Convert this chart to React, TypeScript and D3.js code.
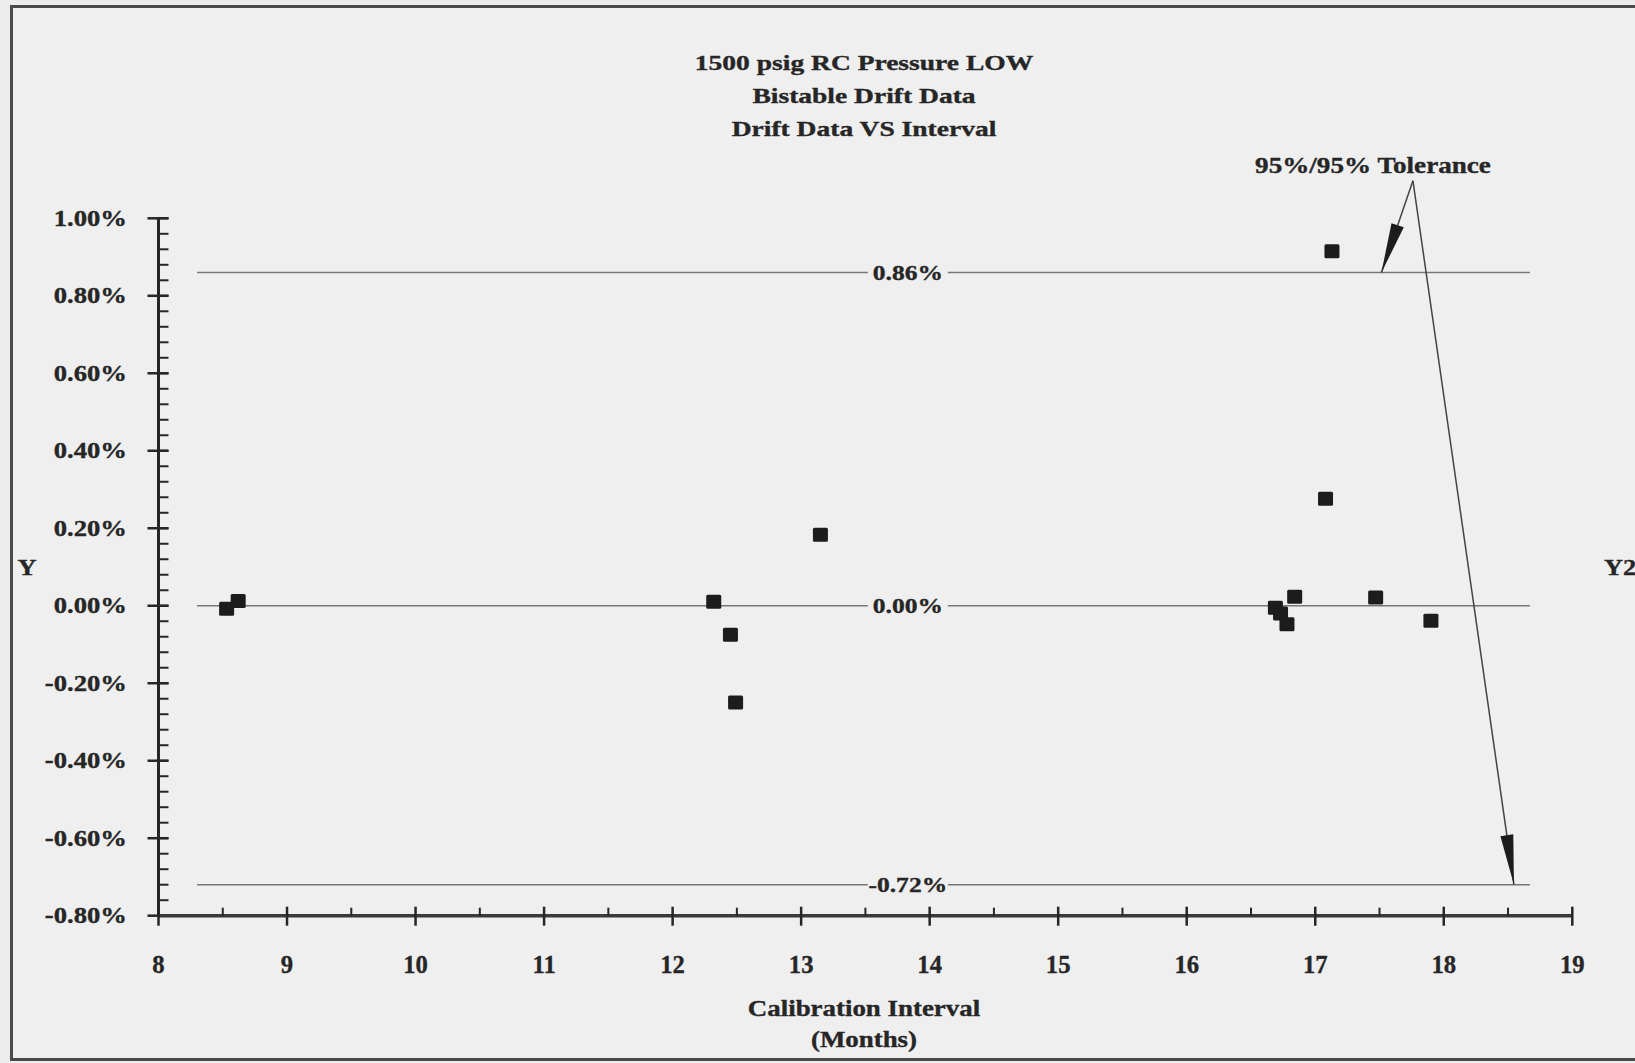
import React from "react";
import * as d3 from "d3";

const titleLines = ["1500 psig RC Pressure LOW", "Bistable Drift Data", "Drift Data VS Interval"];
const xTicks = [8, 9, 10, 11, 12, 13, 14, 15, 16, 17, 18, 19];
const yTicks = [1.0, 0.8, 0.6, 0.4, 0.2, 0.0, -0.2, -0.4, -0.6, -0.8];
const intervalMonths = [8.53, 8.62, 12.32, 12.45, 12.49, 13.15, 16.69, 16.73, 16.78, 16.84, 17.08, 17.13, 17.47, 17.9];
const driftPct = [-0.008, 0.012, 0.01, -0.075, -0.25, 0.183, -0.005, -0.02, -0.048, 0.023, 0.276, 0.915, 0.021, -0.039];
const refValues = [0.86, 0.0, -0.72];
const refLabels = ["0.86%", "0.00%", "-0.72%"];
const refXStart = 8.3;
const refXEnd = 18.67;
const refLabelX = 13.83;
const toleranceLabel = "95%/95% Tolerance";
const arrowOrigin = { x: 17.76, y: 1.097 };
const arrowTips = [{ x: 17.515, y: 0.86 }, { x: 18.546, y: -0.72 }];

const W = 1635;
const H = 1063;
const FONT = "'Liberation Serif', 'Times New Roman', serif";
const INK = "#262626";

function SText({ x, y, sx = 1, size, anchor = "middle", children }: any) {
  return (
    <text
      transform={`translate(${x},${y}) scale(${sx},1)`}
      textAnchor={anchor}
      fontFamily={FONT}
      fontWeight="bold"
      fontSize={size}
      fill={INK}
      stroke={INK}
      strokeWidth={0.35}
    >
      {children}
    </text>
  );
}

export default function App() {
  const x = d3.scaleLinear().domain([8, 19]).range([158.5, 1572.3]);
  const y = d3.scaleLinear().domain([-0.8, 1.0]).range([915.7, 218.3]);
  const yMinor = d3.range(-0.8, 1.0001, 0.04);
  const xMinor = d3.range(8.5, 19, 1);
  const fmt = (v: number) => `${v.toFixed(2)}%`;
  const cx = 864;

  const arrowHead = (t: { x: number; y: number }) => {
    const ox = x(arrowOrigin.x), oy = y(arrowOrigin.y);
    const tx = x(t.x), ty = y(t.y);
    const dx = ox - tx, dy = oy - ty;
    const len = Math.hypot(dx, dy);
    const ux = dx / len, uy = dy / len;
    const L = 50, hw = 6.5;
    const bx = tx + ux * L, by = ty + uy * L;
    const px = -uy, py = ux;
    return `M${tx},${ty} L${bx + px * hw},${by + py * hw} L${bx - px * hw},${by - py * hw} Z`;
  };

  return (
    <svg width={W} height={H} style={{ position: "absolute", left: 0, top: 0, background: "#ececec" }}>
      <rect x={0} y={0} width={W} height={H} fill="#ececec" />
      <rect x={11.5} y={6.5} width={W + 20} height={1053} fill="#efefef" stroke="#4a4a4a" strokeWidth={3} />

      {titleLines.map((t, i) => (
        <SText key={t} x={cx} y={70 + i * 33} sx={1.28} size={21.5}>
          {t}
        </SText>
      ))}

      {/* reference lines */}
      {refValues.map((v, i) => (
        <g key={v}>
          <line x1={x(refXStart)} x2={x(refXEnd)} y1={y(v)} y2={y(v)} stroke="#777" strokeWidth={1.5} />
          <rect x={x(refLabelX) - 40} y={y(v) - 9} width={80} height={18} fill="#efefef" />
          <SText x={x(refLabelX)} y={y(v) + 7.5} sx={1.16} size={22}>
            {refLabels[i]}
          </SText>
        </g>
      ))}

      {/* y axis */}
      <line x1={x(8)} x2={x(8)} y1={y(1.0)} y2={y(-0.8)} stroke={INK} strokeWidth={3} />
      {yMinor.map((v) => (
        <line key={v} x1={x(8)} x2={x(8) + 10} y1={y(v)} y2={y(v)} stroke={INK} strokeWidth={2} />
      ))}
      {yTicks.map((v) => (
        <g key={v}>
          <line x1={x(8) - 11} x2={x(8) + 10} y1={y(v)} y2={y(v)} stroke={INK} strokeWidth={2.5} />
          <SText x={127} y={y(v) + 7.5} sx={1.16} size={23} anchor="end">
            {fmt(v)}
          </SText>
        </g>
      ))}

      {/* x axis */}
      <line x1={x(8)} x2={x(19)} y1={y(-0.8)} y2={y(-0.8)} stroke="#3a3a3a" strokeWidth={3.5} />
      {xMinor.map((v) => (
        <line key={v} x1={x(v)} x2={x(v)} y1={y(-0.8) - 8} y2={y(-0.8)} stroke={INK} strokeWidth={2} />
      ))}
      {xTicks.map((v) => (
        <g key={v}>
          <line x1={x(v)} x2={x(v)} y1={y(-0.8) - 9} y2={y(-0.8) + 10} stroke={INK} strokeWidth={2.5} />
          <SText x={x(v)} y={973} sx={0.95} size={26}>
            {v}
          </SText>
        </g>
      ))}

      {/* data */}
      {intervalMonths.map((m, i) => (
        <rect key={i} x={x(m) - 7.5} y={y(driftPct[i]) - 7} width={15} height={14} rx={1.5} fill="#1c1c1c" />
      ))}

      {/* annotation */}
      {arrowTips.map((t, i) => (
        <g key={i}>
          <line x1={x(arrowOrigin.x)} y1={y(arrowOrigin.y)} x2={x(t.x)} y2={y(t.y)} stroke="#444" strokeWidth={1.5} />
          <path d={arrowHead(t)} fill="#1c1c1c" />
        </g>
      ))}
      <SText x={1373} y={173} sx={1.18} size={23}>
        {toleranceLabel}
      </SText>

      {/* axis titles */}
      <SText x={cx} y={1016} sx={1.17} size={23}>Calibration Interval</SText>
      <SText x={cx} y={1047} sx={1.17} size={23}>(Months)</SText>
      <SText x={27} y={y(0.1) + 8} sx={1.15} size={23}>Y</SText>
      <SText x={1604} y={y(0.1) + 8} sx={1.15} size={23} anchor="start">Y2</SText>
    </svg>
  );
}
